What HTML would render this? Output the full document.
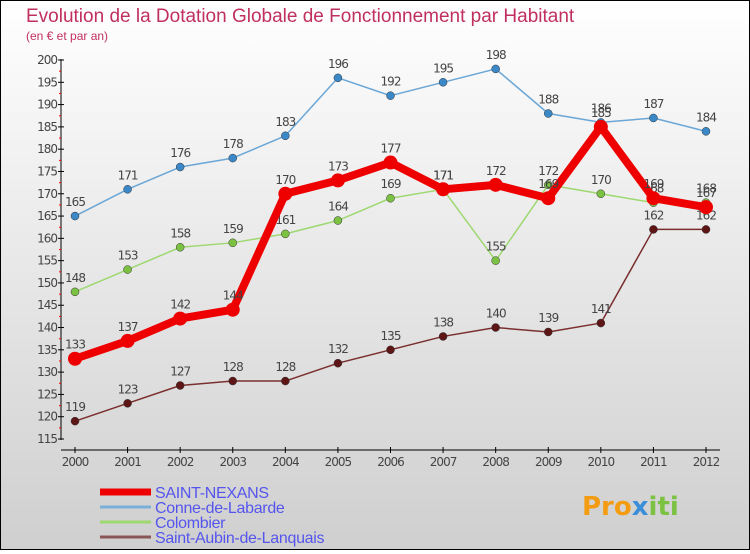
<!DOCTYPE html>
<html><head><meta charset="utf-8"><style>
body{margin:0}
#c{width:750px;height:550px;position:relative;font-family:"DejaVu Sans","Liberation Sans",sans-serif}
</style></head><body>
<div id="c">
<svg id="s" width="750" height="550" xmlns="http://www.w3.org/2000/svg">
<defs><linearGradient id="bg" x1="0" y1="0" x2="0" y2="1"><stop offset="0" stop-color="#ffffff"/><stop offset="1" stop-color="#cfcfcf"/></linearGradient></defs>
<rect x="0.5" y="0.5" width="749" height="549" fill="url(#bg)" stroke="#000"/>
<text x="26" y="22" font-size="19" font-family="Liberation Sans, sans-serif" fill="#c0305e">Evolution de la Dotation Globale de Fonctionnement par Habitant</text>
<text x="26" y="40" font-size="12" font-family="Liberation Sans, sans-serif" fill="#c0305e">(en € et par an)</text>
<g id="axes"></g><g id="series"></g><g id="legend"></g>
<text x="582" y="515" font-size="26" font-weight="bold" fill="#f39c12">Pro<tspan fill="#3a8fd8">x</tspan><tspan fill="#7cc242">iti</tspan></text>
</svg></div>
<script>
const years=["2000","2001","2002","2003","2004","2005","2006","2007","2008","2009","2010","2011","2012"];
const yTicks=[115,120,125,130,135,140,145,150,155,160,165,170,175,180,185,190,195,200];
const seriesNames=["SAINT-NEXANS","Conne-de-Labarde","Colombier","Saint-Aubin-de-Lanquais"];
const saintNexans=[133,137,142,144,170,173,177,171,172,169,185,169,167];
const conne=[165,171,176,178,183,196,192,195,198,188,186,187,184];
const colombier=[148,153,158,159,161,164,169,171,155,172,170,168,168];
const saintAubin=[119,123,127,128,128,132,135,138,140,139,141,162,162];
const NS="http://www.w3.org/2000/svg";
const X=i=>75+i*(706-75)/(years.length-1);
const Y=v=>439-(v-115)*(439-60)/85;
function mk(t,a,p){const e=document.createElementNS(NS,t);for(const k in a)e.setAttribute(k,a[k]);p.appendChild(e);return e;}
const ax=document.getElementById('axes');
mk('line',{x1:61,y1:59,x2:61,y2:440,stroke:'#000'},ax);
mk('line',{x1:61,y1:450,x2:720,y2:450,stroke:'#000'},ax);
yTicks.forEach((v,k)=>{const y=Y(v);
 mk('line',{x1:58,y1:y,x2:64,y2:y,stroke:'#000'},ax);
 if(k<yTicks.length-1) mk('line',{x1:59,y1:y-11.1,x2:61,y2:y-11.1,stroke:'#f00'},ax);
 const t=mk('text',{x:57,y:y+4,'font-size':12,fill:'#444','text-anchor':'end','letter-spacing':'-1'},ax);t.textContent=v;
 
 });
years.forEach((yr,i)=>{const x=X(i);
 mk('line',{x1:x,y1:447,x2:x,y2:453,stroke:'#000'},ax);
 const t=mk('text',{x:x,y:466,'font-size':12,fill:'#444','text-anchor':'middle','letter-spacing':'-1'},ax);t.textContent=yr;
 
 });
const sg=document.getElementById('series');
const defs=[[saintAubin,'#7a2e2e','#5e1515',1.5,4,'saint-aubin'],[colombier,'#9ed870','#7cc242',1.5,4,'colombier'],[conne,'#6aa6d6','#3a88c8',1.5,4,'conne-de-labarde'],[saintNexans,'#ee0000','#ee0000',8,7,'saint-nexans']];
defs.forEach(([d,lc,pc,w,r,n])=>{
 const pl=mk('polyline',{points:d.map((v,i)=>X(i)+','+Y(v)).join(' '),fill:'none',stroke:lc,'stroke-width':w,'stroke-linejoin':'round'},sg);
 
 
 d.forEach((v,i)=>{const c=mk('circle',{cx:X(i),cy:Y(v),r:r,fill:pc,stroke:w>2?'none':'#333','stroke-width':0.5},sg);
  
  
  const t=mk('text',{x:X(i),y:Y(v)-10,'font-size':12,fill:'#444','text-anchor':'middle','letter-spacing':'-1'},sg);t.textContent=v;
  
  });
});
const lg=document.getElementById('legend');
const lcols=['#ee0000','#7ab0d8','#9ed870','#8a5555'],lw=[7,3,3,3];
seriesNames.forEach((nm,i)=>{const y=492+i*15;
 const l=mk('line',{x1:100,y1:y,x2:151,y2:y,stroke:lcols[i],'stroke-width':lw[i]},lg);
 
 
 const t=mk('text',{x:155,y:y+6,'font-size':16,'font-family':'Liberation Sans, sans-serif',fill:'#5555ee','letter-spacing':'-0.3'},lg);t.textContent=nm;
 
 });
</script></body></html>
